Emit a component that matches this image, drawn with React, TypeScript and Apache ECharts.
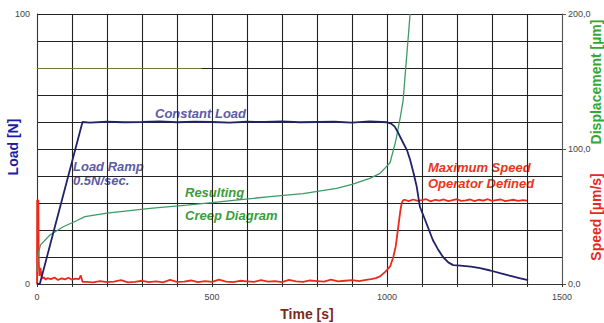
import React, { useEffect, useRef } from "react";
import * as echarts from "echarts";

// Creep test record: time [s] against load [N], displacement [µm] and speed [µm/s]

const loadTime = [
  0, 8, 130, 150, 200, 250, 300, 350, 400, 450, 500, 550, 600, 650, 700, 750, 800, 850, 900, 950,
  985, 1000, 1012, 1022, 1032, 1045, 1057, 1066, 1076, 1085, 1094, 1109, 1131, 1145, 1160, 1175,
  1189, 1210, 1240, 1266, 1295, 1323, 1350, 1378, 1403,
];
const loadN = [
  0, 0, 60, 59.8, 60.1, 59.9, 60.0, 60.2, 59.9, 60.1, 60.0, 59.8, 60.1, 60.0, 60.2, 59.9, 60.0, 60.1,
  59.8, 60.2, 60.0, 59.9, 59.4, 58.3, 56.0, 52.6, 49.6, 46.0, 41.0, 36.0, 28.6, 23.7, 16.3, 13.0,
  10.0, 8.0, 7.0, 6.8, 6.4, 5.9, 5.0, 4.0, 3.1, 2.2, 1.4,
];

const dispTime = [
  0, 3, 10, 37, 75, 110, 137, 200, 323, 428, 500, 561, 666, 760, 856, 900, 951, 980, 995, 1009,
  1017, 1025, 1031, 1039, 1046, 1056, 1066,
];
const dispUm = [
  9, 22, 29, 36.3, 42.4, 46.5, 49.9, 52.5, 56, 58.5, 60.3, 62, 64.7, 67, 70.9, 73.8, 78.3, 82, 86,
  90, 98, 106, 114, 125, 136, 168, 200,
];

const speedTime = [
  0, 0.5, 4, 5, 7, 10, 12, 15, 20, 25, 30, 40, 50, 60, 70, 80, 90, 100, 110, 120, 125, 130,
  140, 160, 180, 200, 220, 240, 260, 280, 300, 320, 340, 360, 380, 400, 420, 440, 460, 480, 500,
  520, 540, 560, 580, 600, 620, 640, 660, 680, 700, 720, 740, 760, 780, 800, 820, 840, 860, 880,
  900, 920, 940,
  955, 968, 980, 995, 1009, 1018, 1025, 1032, 1038, 1042, 1046,
  1050, 1062, 1075, 1088, 1100, 1112, 1125, 1138, 1150, 1162, 1175, 1188, 1200, 1212, 1225, 1238,
  1250, 1262, 1275, 1288, 1300, 1312, 1325, 1338, 1350, 1362, 1375, 1388, 1400,
];
const speedUmS = [
  0, 31, 31, 8, 3, 6, 3.5, 2, 2.5, 1.6, 2.2, 1.8, 2.4, 1.5, 2.1, 1.7, 2.3, 1.6, 2.0, 1.8, 3.2, 0.8,
  0.8, 0.6, 1.1, 0.7, 0.9, 1.4, 0.6, 0.8, 1.2, 0.7, 1.0, 0.6, 1.5, 0.8, 0.9, 1.3, 0.7, 1.1, 0.8,
  1.6, 0.9, 0.7, 1.2, 1.0, 0.8, 1.4, 0.9, 1.1, 0.7, 1.5, 1.0, 0.8, 1.3, 1.1, 0.9, 1.6, 1.0, 1.2,
  1.4, 1.1, 1.5,
  1.8, 2.2, 2.8, 4.5, 6.5, 10, 14, 21, 27, 30, 31,
  31.2, 30.7, 31.3, 30.8, 31.1, 31.4, 30.6, 31.2, 30.9, 31.3, 30.7, 31.1, 31.4, 30.8, 31.0, 31.3,
  30.7, 31.2, 30.9, 31.4, 30.8, 31.1, 31.3, 30.7, 31.0, 31.2, 30.8, 31.1, 30.9,
];

const timeTicks = [0, 500, 1000, 1500];
const loadTicks = [0, 100];

const zip = (xs: number[], ys: number[]) => xs.map((x, i) => [x, ys[i]]);

const FONT = "Liberation Sans, Arial, sans-serif";

export default function App() {
  const ref = useRef<HTMLDivElement>(null);

  useEffect(() => {
    document.body.style.margin = "0";
    if (!ref.current) return;
    const chart = echarts.init(ref.current, null, { renderer: "svg" });

    const tickLabel = { color: "#444", fontSize: 9, fontFamily: FONT };
    const note = (text: string, x: number, y: number, fill: string) => ({
      type: "text",
      x,
      y,
      style: {
        text,
        fill,
        font: `italic bold 13px ${FONT}`,
        align: "left",
        verticalAlign: "middle",
      },
    });
    const title = (text: string, x: number, y: number, fill: string, rotated: boolean) => ({
      type: "text",
      x,
      y,
      rotation: rotated ? Math.PI / 2 : 0,
      style: {
        text,
        fill,
        font: `bold 14px ${FONT}`,
        align: "center",
        verticalAlign: "middle",
      },
    });

    chart.setOption({
      animation: false,
      backgroundColor: "#fff",
      grid: { left: 37, right: 42, top: 14, bottom: 39, containLabel: false },
      xAxis: {
        type: "value",
        min: 0,
        max: 1500,
        interval: 100,
        axisLine: { show: true, lineStyle: { color: "#333", width: 1 } },
        axisTick: { show: true, length: 3, lineStyle: { color: "#333" } },
        axisLabel: {
          ...tickLabel,
          margin: 8,
          formatter: (v: number) => (timeTicks.includes(v) ? String(v) : ""),
        },
        splitLine: { show: true, lineStyle: { color: "#222", width: 1.1 } },
      },
      yAxis: [
        {
          type: "value",
          min: 0,
          max: 100,
          interval: 10,
          axisLine: { show: true, lineStyle: { color: "#333" } },
          axisTick: { show: false },
          axisLabel: {
            ...tickLabel,
            margin: 7,
            formatter: (v: number) => (loadTicks.includes(v) ? String(v) : ""),
          },
          splitLine: { show: true, lineStyle: { color: "#222", width: 1.1 } },
        },
        {
          type: "value",
          position: "right",
          min: 0,
          max: 200,
          interval: 100,
          axisLine: { show: true, lineStyle: { color: "#555" } },
          axisTick: { show: true, length: 4, lineStyle: { color: "#555" } },
          axisLabel: {
            ...tickLabel,
            margin: 6,
            formatter: (v: number) => v.toFixed(1).replace(".", ","),
          },
          splitLine: { show: false },
        },
        {
          type: "value",
          position: "right",
          min: 0,
          max: 100,
          show: false,
          splitLine: { show: false },
        },
      ],
      series: [
        {
          name: "Speed",
          type: "line",
          yAxisIndex: 2,
          data: zip(speedTime, speedUmS),
          showSymbol: false,
          lineStyle: { color: "#ec2a1c", width: 1.8 },
          itemStyle: { color: "#ec2a1c" },
        },
        {
          name: "Displacement",
          type: "line",
          yAxisIndex: 1,
          data: zip(dispTime, dispUm),
          showSymbol: false,
          lineStyle: { color: "#3d9a62", width: 1.3 },
          itemStyle: { color: "#3d9a62" },
        },
        {
          name: "Load",
          type: "line",
          yAxisIndex: 0,
          data: zip(loadTime, loadN),
          showSymbol: false,
          lineStyle: { color: "#22226a", width: 1.8 },
          itemStyle: { color: "#22226a" },
          markLine: {
            silent: true,
            symbol: "none",
            label: { show: false },
            lineStyle: { color: "#6f7c33", width: 1.2, type: "solid" },
            data: [[{ coord: [0, 80] }, { coord: [470, 80] }]],
          },
        },
      ],
      graphic: [
        note("Constant Load", 155, 113, "#5b5ba6"),
        note("Load Ramp", 73, 166.5, "#5b5ba6"),
        note("0.5N/sec.", 73, 180.5, "#5b5ba6"),
        note("Resulting", 185, 192, "#3a9e3a"),
        note("Creep Diagram", 185, 215, "#3a9e3a"),
        note("Maximum Speed", 428, 167, "#ec3420"),
        note("Operator Defined", 428, 183, "#ec3420"),
        title("Load [N]", 13, 147, "#1c1ca6", true),
        title("Displacement [µm]", 596, 82, "#33a833", true),
        title("Speed [µm/s]", 596, 217, "#e8281e", true),
        title("Time [s]", 307, 314, "#7b2b1b", false),
      ],
    });

    return () => chart.dispose();
  }, []);

  return <div ref={ref} style={{ width: 604, height: 323 }} />;
}
